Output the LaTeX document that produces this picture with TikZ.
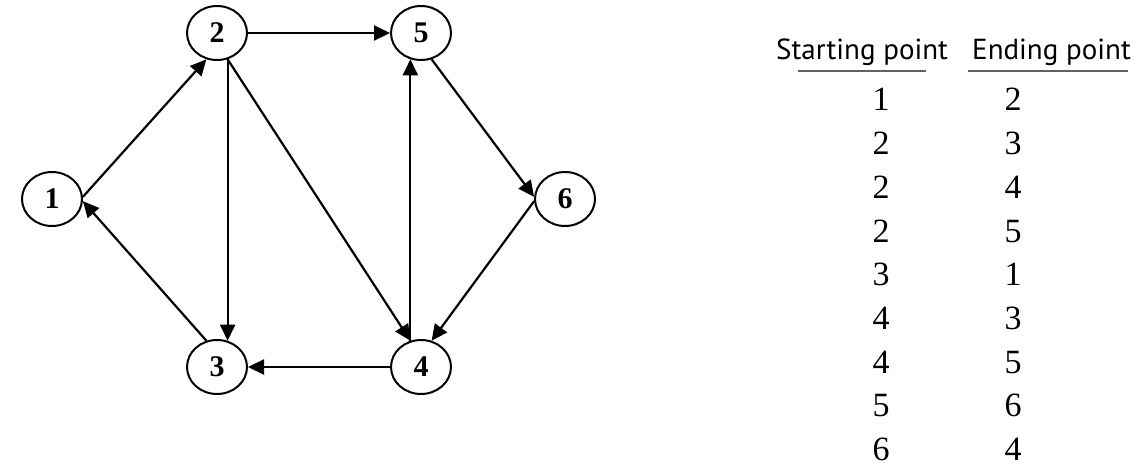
\documentclass[tikz,border=0pt]{standalone}
\usepackage{fontspec}
\setmainfont{Liberation Serif}
\newfontfamily\hdfont{PT Sans}
\usetikzlibrary{shapes.geometric,arrows.meta}
\begin{document}
\begin{tikzpicture}[x=1pt,y=-1pt,
  vertex/.style={ellipse,draw,line width=2pt,minimum width=60pt,minimum height=54pt,
    inner sep=0pt,font=\fontsize{30}{30}\selectfont\bfseries},
  arc/.style={line width=2.2pt,-{Triangle[length=16pt,width=15pt]}},
  hdr/.style={anchor=base west,inner sep=0pt,font=\hdfont\fontsize{29}{29}\selectfont},
  num/.style={anchor=base,inner sep=0pt,font=\fontsize{34}{34}\selectfont},
  tabrule/.style={line width=2.2pt,draw=black!62}]
\useasboundingbox (0,0) rectangle (1148,468);

% vertices
\node[vertex] (n1) at (52,199) {1};
\node[vertex] (n2) at (217,33) {2};
\node[vertex] (n3) at (217,367) {3};
\node[vertex] (n4) at (421,367) {4};
\node[vertex] (n5) at (421,33) {5};
\node[vertex] (n6) at (565,199) {6};

% directed edges
\draw[arc] (n1.4) -- (n2.-112);
\draw[arc] (n2.-68) -- (n3.68);
\draw[arc] (n2.-68) -- (n4.112);
\draw[arc] (n2.east) -- (n5.west);
\draw[arc] (n3.112) -- (n1.-4);
\draw[arc] (n4.west) -- (n3.east);
\draw[arc] (n4.112) -- (n5.-112);
\draw[arc] (n5.-68) -- (n6.176);
\draw[arc] (n6.184) -- (n4.68);

% edge list
\node[hdr] (hs) at (776,60) {Starting point};
\node[hdr] (he) at (972,60) {Ending point};
\draw[tabrule] (798,71) -- (926,71);
\draw[tabrule] (968,71) -- (1128,71);
\foreach \s/\e [count=\k from 0] in {1/2,2/3,2/4,2/5,3/1,4/3,4/5,5/6,6/4}{
  \node[num] (s\k) at (881,{111+43.7*\k}) {\s};
  \node[num] (e\k) at (1013,{111+43.7*\k}) {\e};
}
\end{tikzpicture}
\end{document}
